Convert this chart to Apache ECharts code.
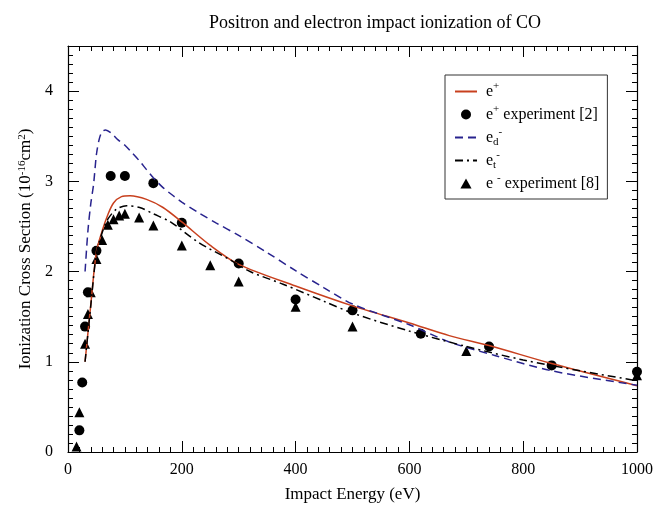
<!DOCTYPE html>
<html>
<head>
<meta charset="utf-8">
<script src="https://cdn.jsdelivr.net/npm/echarts@6/dist/echarts.min.js"></script>
<style>
  html, body { margin: 0; padding: 0; background: #fff; }
  #chart { width: 656px; height: 508px; }
</style>
</head>
<body>
<div id="chart"></div>
<script>
// theory curves, [energy eV, cross section]
var ePlusLine = [[30,1.0],[40,1.63],[50,2.22],[60,2.45],[70,2.63],[80,2.76],[94,2.83],[109,2.84],[138,2.80],[167,2.71],[200,2.55],[250,2.29],[300,2.08],[400,1.84],[500,1.62],[600,1.43],[670,1.29],[740,1.18],[850,0.98],[1000,0.735]];
var eDLine = [[30,2.0],[35,2.45],[40,2.75],[45,2.97],[50,3.3],[55,3.47],[60,3.55],[66,3.57],[75,3.54],[88,3.46],[100,3.40],[112,3.32],[125,3.23],[138,3.13],[150,3.04],[167,2.93],[185,2.84],[200,2.77],[230,2.65],[260,2.54],[300,2.4],[350,2.21],[400,2.01],[450,1.82],[500,1.64],[600,1.41],[670,1.22],[750,1.07],[850,0.9],[1000,0.74]];
var eTLine = [[30,1.0],[40,1.62],[50,2.2],[60,2.43],[70,2.58],[85,2.69],[103,2.73],[126,2.71],[150,2.64],[180,2.55],[230,2.32],[285,2.13],[320,2.0],[378,1.86],[450,1.67],[500,1.54],[600,1.34],[700,1.17],[800,1.02],[900,0.9],[1000,0.79]];
// measurements
var ePlusExp = [[20,0.24],[25,0.77],[30,1.39],[35,1.77],[50,2.23],[75,3.06],[100,3.06],[150,2.98],[200,2.54],[300,2.09],[400,1.69],[500,1.57],[620,1.31],[740,1.17],[850,0.96],[1000,0.89]];
var eMinusExp = [[15,0.06],[20,0.44],[30,1.2],[35,1.53],[40,1.77],[50,2.14],[60,2.35],[70,2.52],[80,2.58],[90,2.62],[100,2.64],[125,2.6],[150,2.51],[200,2.29],[250,2.07],[300,1.89],[400,1.61],[500,1.39],[700,1.12],[1000,0.85]];

var FONT = 'Liberation Serif';
var legendText = {
  'e+': 'e{sup|+}',
  'e+ experiment [2]': 'e{sup|+} experiment [2]',
  'ed': 'e{sub|d}{sup|-}',
  'et': 'e{sub|t}{sup|-}',
  'e- experiment [8]': 'e {sup|-} experiment [8]'
};
var rich = {
  sup: { fontSize: 11, fontFamily: FONT, verticalAlign: 'top', lineHeight: 11, color: '#000' },
  sub: { fontSize: 11, fontFamily: FONT, verticalAlign: 'bottom', lineHeight: 11, color: '#000' }
};

function xAx(pos, main) {
  return {
    type: 'value', position: pos, min: 0, max: 1000, interval: 200,
    axisLine: { show: true, onZero: false, lineStyle: { color: '#000', width: 1.2 } },
    axisTick: { show: true, inside: true, length: 11, lineStyle: { color: '#000' } },
    minorTick: { show: true, splitNumber: 10, length: 5, lineStyle: { color: '#000' } },
    axisLabel: { show: main, margin: 10, color: '#000', fontSize: 16, fontFamily: FONT,
      formatter: function (v) { return String(v); } },
    splitLine: { show: false },
    name: main ? 'Impact Energy (eV)' : '',
    nameLocation: 'middle', nameGap: 34,
    nameTextStyle: { color: '#000', fontSize: 17, fontFamily: FONT }
  };
}
function yAx(pos, main, minor) {
  return {
    type: 'value', position: pos, min: 0, max: 4.5, interval: minor ? 0.1 : 1,
    axisLine: { show: !minor, onZero: false, lineStyle: { color: '#000', width: 1.2 } },
    axisTick: { show: true, inside: true, length: minor ? 5 : 11, lineStyle: { color: '#000' } },
    axisLabel: {
      show: main, margin: 15, color: '#000', fontSize: 16, fontFamily: FONT,
      formatter: function (v) { return v % 1 === 0 ? String(v) : ''; }
    },
    splitLine: { show: false },
    name: main ? 'Ionization Cross Section (10{sup|-16}cm{sup|2})' : '',
    nameLocation: 'middle', nameGap: 31, nameRotate: 90,
    nameTextStyle: { color: '#000', fontSize: 17, fontFamily: FONT, rich: rich }
  };
}

var chart = echarts.init(document.getElementById('chart'));
chart.setOption({
  animation: false,
  backgroundColor: '#fff',
  title: {
    text: 'Positron and electron impact ionization of CO',
    left: 204, top: 9,
    textStyle: { color: '#000', fontSize: 18, fontWeight: 'normal', fontFamily: FONT }
  },
  grid: { left: 68, right: 18, top: 46, bottom: 54 },
  legend: {
    orient: 'vertical', left: 445, top: 75,
    backgroundColor: '#fff', borderColor: '#333', borderWidth: 1,
    padding: [6, 8, 5, 9], itemGap: 2, itemWidth: 22, itemHeight: 10,
    symbolKeepAspect: true,
    data: [
      { name: 'e+', itemStyle: { opacity: 0 } },
      { name: 'e+ experiment [2]' },
      { name: 'ed', itemStyle: { opacity: 0 } },
      { name: 'et', itemStyle: { opacity: 0 } },
      { name: 'e- experiment [8]', icon: 'path://M5,0L10,9L0,9Z' }
    ],
    formatter: function (n) { return legendText[n]; },
    textStyle: {
      color: '#000', fontSize: 16, fontFamily: FONT, lineHeight: 21, padding: [0, 0, 0, 4],
      rich: rich
    }
  },
  xAxis: [xAx('bottom', true), xAx('top', false)],
  yAxis: [yAx('left', true, false), yAx('left', false, true), yAx('right', false, false), yAx('right', false, true)],
  series: [
    { name: 'e+', type: 'line', data: ePlusLine, smooth: 0.3, symbol: 'none',
      lineStyle: { color: '#c8401e', width: 1.5 }, itemStyle: { color: '#c8401e' } },
    { name: 'e+ experiment [2]', type: 'scatter', data: ePlusExp, symbol: 'circle', symbolSize: 10,
      itemStyle: { color: '#000', opacity: 1 } },
    { name: 'ed', type: 'line', data: eDLine, smooth: 0.3, symbol: 'none',
      lineStyle: { color: '#28238e', width: 1.5, type: [8, 5] }, itemStyle: { color: '#28238e' } },
    { name: 'et', type: 'line', data: eTLine, smooth: 0.3, symbol: 'none',
      lineStyle: { color: '#000', width: 1.5, type: [8, 4, 2, 4] }, itemStyle: { color: '#000' } },
    { name: 'e- experiment [8]', type: 'scatter', data: eMinusExp, symbol: 'triangle', symbolSize: 10,
      itemStyle: { color: '#000', opacity: 1 } }
  ]
});
</script>
</body>
</html>
